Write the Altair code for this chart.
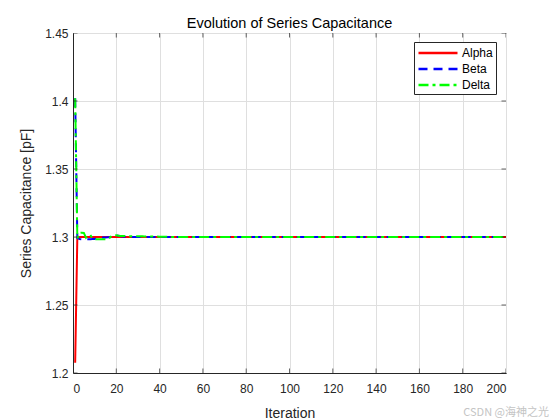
import altair as alt
import pandas as pd

# ---- data ----
iterations = list(range(1, 201))

alpha_head = [1.2076, 1.2998]
alpha = alpha_head + [1.3] * (200 - len(alpha_head))

beta_head = [1.402, 1.2992, 1.2985, 1.2983, 1.2983, 1.2983, 1.2983, 1.2984, 1.2985,
             1.2986, 1.2992, 1.2995, 1.2996, 1.2996, 1.2997, 1.2998, 1.2999, 1.3004,
             1.3010, 1.3012, 1.3010, 1.3005, 1.3003, 1.3002, 1.3001]
beta = beta_head + [1.3] * (200 - len(beta_head))

delta_head = [1.402, 1.2990, 1.3030, 1.3032, 1.3030, 1.2995, 1.3012, 1.3015, 1.2990,
              1.2984, 1.2983, 1.2983, 1.2983, 1.2984, 1.2984, 1.2986, 1.2995, 1.3010,
              1.3012, 1.3012, 1.3010, 1.3008, 1.3007, 1.3007, 1.3007, 1.3006, 1.3006,
              1.3006, 1.3005, 1.3005, 1.3005, 1.3005, 1.3004, 1.3004, 1.3004, 1.3004,
              1.3003, 1.3003, 1.3003, 1.3002, 1.3002, 1.3002, 1.3001, 1.3001, 1.3001]
delta = delta_head + [1.3] * (200 - len(delta_head))

series_names = ["Alpha", "Beta", "Delta"]
series_colors = ["#ff0000", "#0000ff", "#00ff00"]
series_dashes = [[1, 0], [9, 6], [10, 4, 3, 4]]

x_ticks = [0, 20, 40, 60, 80, 100, 120, 140, 160, 180, 200]
y_ticks = [1.2, 1.25, 1.3, 1.35, 1.4, 1.45]

rows = []
for name, vals in zip(series_names, [alpha, beta, delta]):
    for it, v in zip(iterations, vals):
        rows.append({"Iteration": it, "Value": v, "Series": name})
df = pd.DataFrame(rows)

FONT = "Liberation Sans"
W, H = 433, 340

xscale = alt.Scale(domain=[0, 200], nice=False, zero=False)
yscale = alt.Scale(domain=[1.2, 1.45], nice=False, zero=False)

lines = alt.Chart(df).mark_line(strokeWidth=2, clip=True).encode(
    x=alt.X("Iteration:Q", scale=xscale, title="Iteration",
            axis=alt.Axis(values=x_ticks, format="d")),
    y=alt.Y("Value:Q", scale=yscale, title="Series Capacitance [pF]",
            axis=alt.Axis(values=y_ticks, format="~g")),
    color=alt.Color("Series:N", title=None,
                    scale=alt.Scale(domain=series_names, range=series_colors),
                    legend=alt.Legend(orient="none", legendX=341, legendY=9,
                                      symbolType="M-1,0H5", symbolSize=169,
                                      symbolStrokeWidth=2.5,
                                      labelFont=FONT, labelFontSize=12,
                                      labelColor="#000000", labelOffset=29,
                                      strokeColor="#262626", fillColor="white",
                                      padding=3, rowPadding=2)),
    strokeDash=alt.StrokeDash("Series:N", title=None,
                              scale=alt.Scale(domain=series_names, range=series_dashes)),
    order=alt.Order("Iteration:Q"),
)

xt = pd.DataFrame({"t": x_ticks})
yt = pd.DataFrame({"t": y_ticks})

tick_style = dict(clip=True, color="#262626", thickness=1, size=9)
xt_bottom = alt.Chart(xt).mark_tick(orient="vertical", **tick_style).encode(
    x=alt.X("t:Q", scale=xscale), y=alt.datum(1.2, scale=yscale))
xt_top = alt.Chart(xt).mark_tick(orient="vertical", **tick_style).encode(
    x=alt.X("t:Q", scale=xscale), y=alt.datum(1.45, scale=yscale))
yt_left = alt.Chart(yt).mark_tick(orient="horizontal", **tick_style).encode(
    y=alt.Y("t:Q", scale=yscale), x=alt.datum(0, scale=xscale))
yt_right = alt.Chart(yt).mark_tick(orient="horizontal", **tick_style).encode(
    y=alt.Y("t:Q", scale=yscale), x=alt.datum(200, scale=xscale))

watermark = alt.Chart(pd.DataFrame({"t": ["CSDN @海神之光"]})).mark_text(
    align="right", baseline="middle", font="Noto Sans CJK SC", fontSize=11,
    color="#c4c4c4").encode(text="t:N", x=alt.value(476), y=alt.value(380))

chart = alt.layer(lines, xt_bottom, xt_top, yt_left, yt_right, watermark).properties(
    width=W, height=H,
    title=alt.Title("Evolution of Series Capacitance", font=FONT, fontSize=14.5,
                    fontWeight="normal", color="#000000", offset=6, dy=10),
    autosize=alt.AutoSizeParams(type="none"),
    padding={"left": 65, "top": 25, "right": 46, "bottom": 54},
).configure_view(
    stroke="#262626", strokeWidth=1
).configure_axis(
    labelFont=FONT, labelFontSize=12, labelColor="#262626",
    titleFont=FONT, titleFontSize=14, titleColor="#262626", titleFontWeight="normal",
    grid=True, gridColor="#dfdfdf", gridWidth=1,
    domainColor="#262626", domainWidth=1, ticks=False,
).configure_axisX(
    labelPadding=10, titlePadding=12,
).configure_axisY(
    labelPadding=5, titlePadding=11,
)

chart.save("out.html", embed_options={"renderer": "svg", "actions": False})
